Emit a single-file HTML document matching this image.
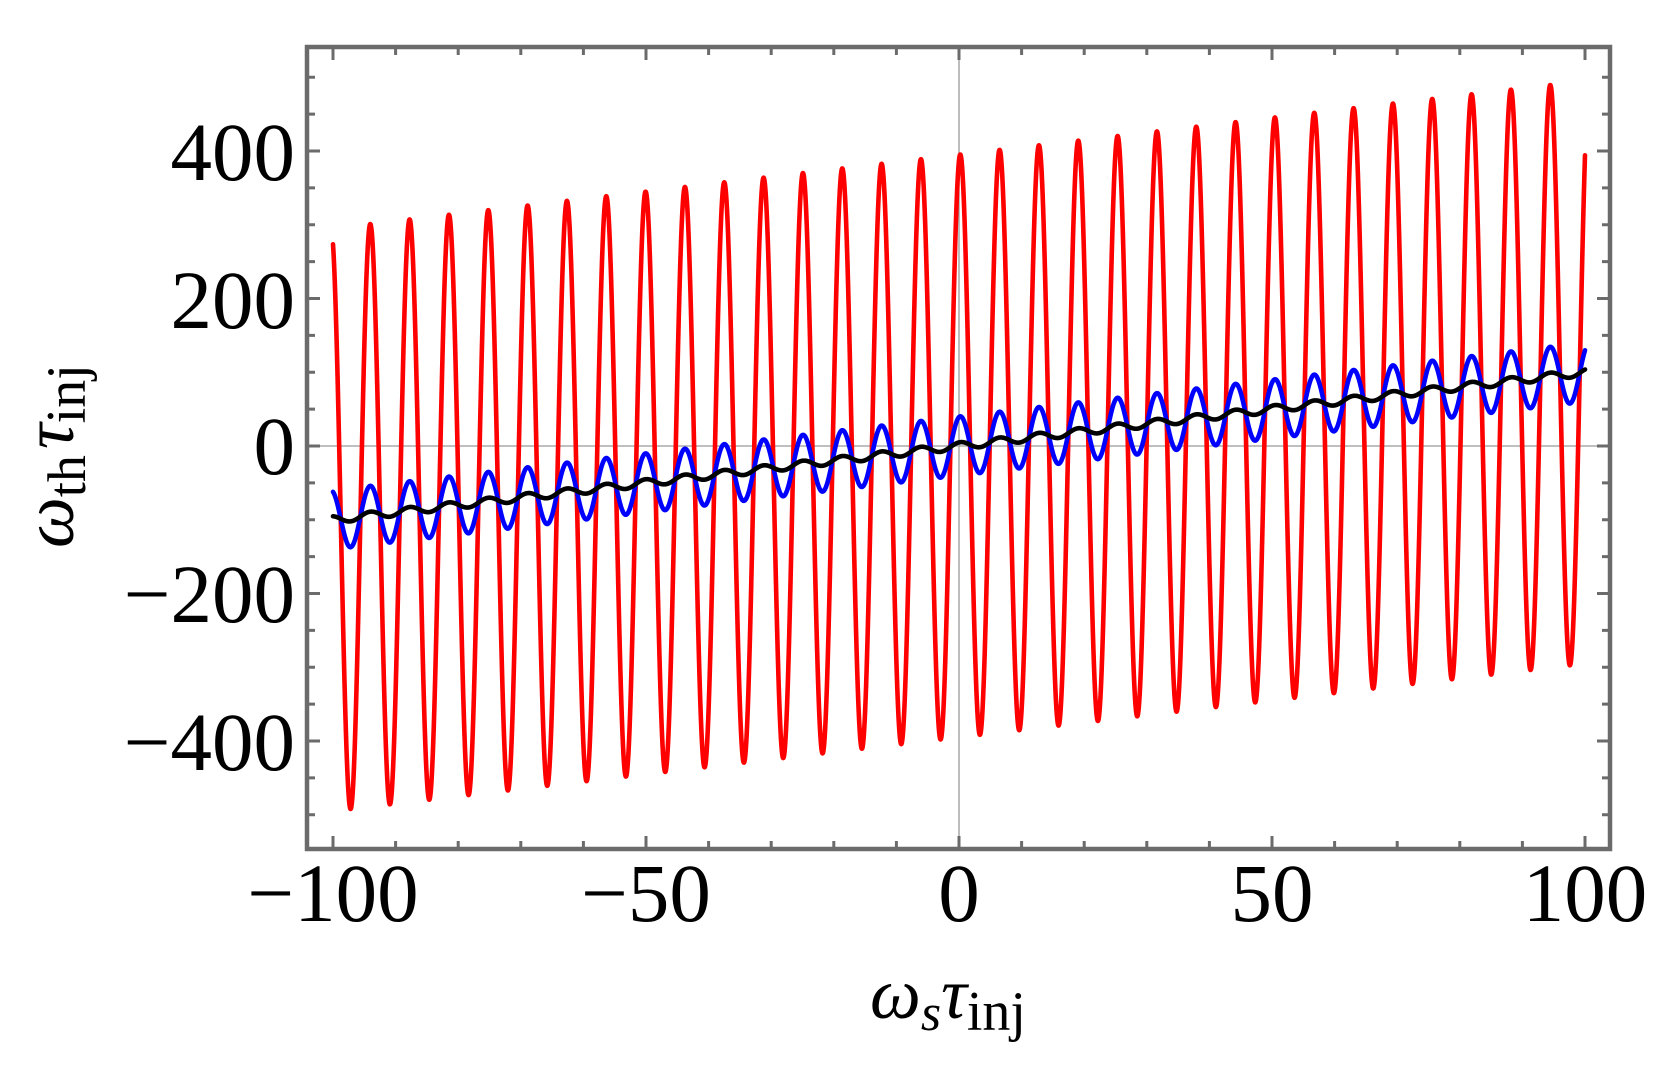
<!DOCTYPE html>
<html><head><meta charset="utf-8"><style>
html,body{margin:0;padding:0;background:#fff;}
svg{display:block;}
text{font-family:"Liberation Serif","DejaVu Serif",serif;}
</style></head><body>
<svg id="s" width="1673" height="1084" viewBox="0 0 1673 1084" xmlns="http://www.w3.org/2000/svg">
<rect width="1673" height="1084" fill="#fff"/>
<line x1="959" y1="47" x2="959" y2="849" stroke="#999" stroke-width="1.3"/>
<line x1="307" y1="446" x2="1610" y2="446" stroke="#999" stroke-width="1.3"/>
<g id="curves" fill="none" stroke-linejoin="round" stroke-linecap="round"></g>
<g id="ticks" stroke="#6b6b6b"></g>
<rect x="307" y="47" width="1303" height="802" fill="none" stroke="#6b6b6b" stroke-width="4.5"/>
<g font-size="83" fill="#000">
<text x="333" y="921" text-anchor="middle">−100</text>
<text x="646" y="921" text-anchor="middle">−50</text>
<text x="959" y="921" text-anchor="middle">0</text>
<text x="1272" y="921" text-anchor="middle">50</text>
<text x="1585" y="921" text-anchor="middle">100</text>
<text x="295" y="180" text-anchor="end">400</text>
<text x="295" y="328" text-anchor="end">200</text>
<text x="295" y="474" text-anchor="end">0</text>
<text x="295" y="622" text-anchor="end">−200</text>
<text x="295" y="770" text-anchor="end">−400</text>
</g>
<text x="870" y="1018" font-size="72" fill="#000"><tspan font-style="italic">ω</tspan><tspan font-style="italic" font-size="52" dy="12">s</tspan><tspan font-style="italic" dy="-12">τ</tspan><tspan font-size="56" dy="12">inj</tspan></text>
<text transform="translate(73,548) rotate(-90)" font-size="72" fill="#000"><tspan font-style="italic">ω</tspan><tspan font-size="54" dy="12">th</tspan><tspan font-style="italic" dy="-12" dx="6">τ</tspan><tspan font-size="56" dy="12">inj</tspan></text>
</svg>
<script>
(function(){
var X=function(x){return 959+x*6.26;};
var Y=function(y){return 446-y*0.7375;};
function path(A,col,w){
  var d="";
  for(var i=0;i<=8000;i++){
    var x=-100+200*i/8000;
    var y=x+A*Math.cos(x-0.2);
    d+=(i?"L":"M")+X(x).toFixed(2)+" "+Y(y).toFixed(2);
  }
  var p=document.createElementNS("http://www.w3.org/2000/svg","path");
  p.setAttribute("d",d);p.setAttribute("stroke",col);p.setAttribute("stroke-width",w);
  document.getElementById("curves").appendChild(p);
}
path(395,"#ff0000",4.6);
path(40,"#0000ff",4.6);
path(5,"#000000",4.6);
var g=document.getElementById("ticks"),h="";
for(var v=-100;v<=100;v+=10){
  var x=X(v),L=(v%50===0)?11:6;
  h+='<line x1="'+x+'" y1="49" x2="'+x+'" y2="'+(49+L)+'" stroke-width="3"/>';
  h+='<line x1="'+x+'" y1="847" x2="'+x+'" y2="'+(847-L)+'" stroke-width="3"/>';
}
for(var v=-550;v<=550;v+=50){
  var y=Y(v); if(y<49||y>847) continue;
  var L=(v%200===0)?11:6;
  h+='<line x1="309" y1="'+y+'" x2="'+(309+L)+'" y2="'+y+'" stroke-width="3"/>';
  h+='<line x1="1608" y1="'+y+'" x2="'+(1608-L)+'" y2="'+y+'" stroke-width="3"/>';
}
g.innerHTML=h;
})();
</script>
</body></html>
